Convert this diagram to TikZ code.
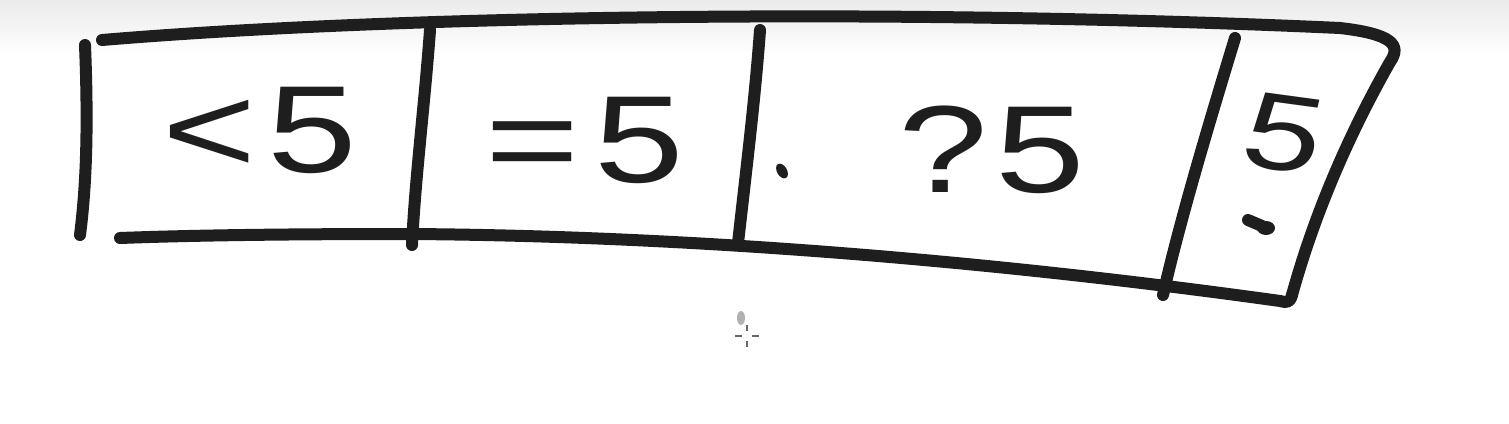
\documentclass[tikz,border=0pt]{standalone}
\usepackage{fontspec}
\setmainfont{Liberation Sans}
\definecolor{ink}{HTML}{1E1E1E}
\begin{document}
\begin{tikzpicture}[x=0.5pt,y=-0.5pt,
  pen/.style={line width=6pt, line cap=round, line join=round, draw=ink},
  glyph/.style={font=\fontsize{62}{64}\selectfont, text=ink, inner sep=0pt, xscale=1.3}]
\useasboundingbox (0,0) rectangle (1509,423);
\fill[white] (0,0) rectangle (1509,423);
\shade[top color=black!8, bottom color=white] (0,0) rectangle (1509,55);
% frame
\draw[pen] (85,45) .. controls (88,120) and (87,180) .. (80,235);
\draw[pen] (102,40) .. controls (400,15) and (900,8) .. (1340,28)
  .. controls (1392,34) and (1402,45) .. (1390,62)
  .. controls (1340,150) and (1310,230) .. (1292,295);
\draw[pen] (1292,295) .. controls (1290,302) and (1288,303) .. (1280,301)
  .. controls (1000,262) and (700,236) .. (410,234)
  .. controls (300,234) and (200,235) .. (120,238);
% dividers
\draw[pen] (430,30) .. controls (425,100) and (415,180) .. (412,245);
\draw[pen] (760,30) .. controls (755,100) and (745,180) .. (738,243);
\draw[pen] (1235,38) .. controls (1210,120) and (1180,220) .. (1163,295);
% texts
\node[glyph] (t1) at (260,130) {<\hspace{4pt}5};
\node[glyph] (t2) at (585,140) {=\hspace{6pt}5};
\fill[ink, rotate around={30:(782,171)}] (782,171) ellipse (5 and 8);
\node[glyph] (t3) at (992,150) {?\hspace{3pt}5};
\node[glyph, font=\fontsize{54}{56}\selectfont, xscale=1, rotate=-10] (t4) at (1284,134) {5};
\draw[pen] (1248,220) -- (1262,226);
\fill[ink] (1266,228) ellipse (9 and 7);
% cursor
\fill[black!30] (741,318) ellipse (4 and 7);
\draw[black!60, line width=0.6pt] (735,336) -- (742,336) (752,336) -- (759,336)
  (747,325) -- (747,331) (747,341) -- (747,347);
\end{tikzpicture}
\end{document}
